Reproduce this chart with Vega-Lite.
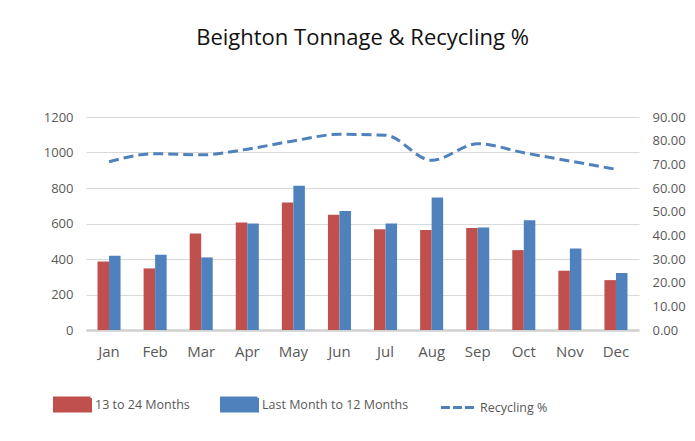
{
  "$schema": "https://vega.github.io/schema/vega-lite/v6.json",
  "width": 553,
  "height": 213,
  "autosize": {"type": "none"},
  "padding": {"left": 86, "top": 117, "right": 56, "bottom": 111},
  "background": "white",
  "title": {
    "text": "Beighton Tonnage & Recycling %",
    "font": "Open Sans",
    "fontSize": 22,
    "fontWeight": "normal",
    "color": "#111111",
    "baseline": "alphabetic",
    "offset": 44,
    "anchor": "middle"
  },
  "config": {
    "view": {"stroke": null},
    "axis": {"labelFont": "Open Sans", "labelColor": "#595959"}
  },
  "data": {
    "values": [
      {"month": "Jan", "series": "13 to 24 Months", "value": 386},
      {"month": "Feb", "series": "13 to 24 Months", "value": 347},
      {"month": "Mar", "series": "13 to 24 Months", "value": 544},
      {"month": "Apr", "series": "13 to 24 Months", "value": 606},
      {"month": "May", "series": "13 to 24 Months", "value": 718},
      {"month": "Jun", "series": "13 to 24 Months", "value": 649},
      {"month": "Jul", "series": "13 to 24 Months", "value": 568},
      {"month": "Aug", "series": "13 to 24 Months", "value": 563},
      {"month": "Sep", "series": "13 to 24 Months", "value": 574},
      {"month": "Oct", "series": "13 to 24 Months", "value": 450},
      {"month": "Nov", "series": "13 to 24 Months", "value": 334},
      {"month": "Dec", "series": "13 to 24 Months", "value": 281},
      {"month": "Jan", "series": "Last Month to 12 Months", "value": 418},
      {"month": "Feb", "series": "Last Month to 12 Months", "value": 424},
      {"month": "Mar", "series": "Last Month to 12 Months", "value": 409},
      {"month": "Apr", "series": "Last Month to 12 Months", "value": 600},
      {"month": "May", "series": "Last Month to 12 Months", "value": 812},
      {"month": "Jun", "series": "Last Month to 12 Months", "value": 671},
      {"month": "Jul", "series": "Last Month to 12 Months", "value": 600},
      {"month": "Aug", "series": "Last Month to 12 Months", "value": 746},
      {"month": "Sep", "series": "Last Month to 12 Months", "value": 577},
      {"month": "Oct", "series": "Last Month to 12 Months", "value": 619},
      {"month": "Nov", "series": "Last Month to 12 Months", "value": 459},
      {"month": "Dec", "series": "Last Month to 12 Months", "value": 321},
      {"month": "Jan", "series": "Recycling %", "value": 71.1},
      {"month": "Feb", "series": "Recycling %", "value": 74.5},
      {"month": "Mar", "series": "Recycling %", "value": 74.0},
      {"month": "Apr", "series": "Recycling %", "value": 76.4},
      {"month": "May", "series": "Recycling %", "value": 79.9},
      {"month": "Jun", "series": "Recycling %", "value": 82.7},
      {"month": "Jul", "series": "Recycling %", "value": 82.3},
      {"month": "Aug", "series": "Recycling %", "value": 71.7},
      {"month": "Sep", "series": "Recycling %", "value": 78.7},
      {"month": "Oct", "series": "Recycling %", "value": 74.9},
      {"month": "Nov", "series": "Recycling %", "value": 71.4},
      {"month": "Dec", "series": "Recycling %", "value": 67.9}
    ]
  },
  "encoding": {
    "x": {
      "field": "month",
      "type": "nominal",
      "sort": ["Jan","Feb","Mar","Apr","May","Jun","Jul","Aug","Sep","Oct","Nov","Dec"],
      "scale": {"paddingInner": 0.5, "paddingOuter": 0.25},
      "axis": {
        "title": null,
        "labelAngle": 0,
        "labelFontSize": 15,
        "labelPadding": 14,
        "ticks": false,
        "grid": false,
        "domain": true,
        "domainColor": "#d0d0d0",
        "domainWidth": 2.5
      }
    },
    "color": {
      "field": "series",
      "type": "nominal",
      "scale": {
        "domain": ["13 to 24 Months", "Last Month to 12 Months", "Recycling %"],
        "range": ["#C0504D", "#4F81BD", "#4F81BD"]
      },
      "legend": {
        "orient": "none",
        "legendX": -33,
        "legendY": 268,
        "direction": "horizontal",
        "title": null,
        "symbolSize": 1296,
        "symbolStrokeWidth": 0,
        "labelFont": "Open Sans",
        "labelFontSize": 12.5,
        "labelColor": "#595959",
        "labelOffset": 3,
        "columnPadding": 25,
        "encode": {
          "symbols": {
            "update": {
              "shape": {"signal": "datum.value === 'Recycling %' ? 'M-0.92,0H0.92' : 'M-1,-0.361H1V0.361H-1Z'"},
              "size": {"value": 1296},
              "fill": {"signal": "datum.value === '13 to 24 Months' ? '#C0504D' : (datum.value === 'Last Month to 12 Months' ? '#4F81BD' : 'transparent')"},
              "stroke": {"signal": "datum.value === 'Recycling %' ? '#4F81BD' : 'transparent'"},
              "strokeWidth": {"value": 3},
              "strokeDash": {"signal": "datum.value === 'Recycling %' ? [9,3] : [1,0]"},
              "opacity": {"value": 1}
            }
          }
        }
      }
    }
  },
  "layer": [
    {
      "transform": [{"filter": "datum.series !== 'Recycling %'"}],
      "mark": {"type": "bar"},
      "encoding": {
        "xOffset": {"field": "series", "type": "nominal", "sort": ["13 to 24 Months", "Last Month to 12 Months"], "scale": {"paddingInner": 0, "paddingOuter": 0}},
        "y": {
          "field": "value",
          "type": "quantitative",
          "scale": {"domain": [0, 1200]},
          "axis": {
            "orient": "left",
            "title": null,
            "values": [0, 200, 400, 600, 800, 1000, 1200],
            "format": "d",
            "grid": true,
            "gridColor": "#d9d9d9",
            "domain": false,
            "ticks": false,
            "labelPadding": 13,
            "labelFontSize": 13
          }
        }
      }
    },
    {
      "transform": [{"filter": "datum.series === 'Recycling %'"}],
      "mark": {"type": "line", "interpolate": "monotone", "strokeWidth": 3, "strokeDash": [10, 5]},
      "encoding": {
        "y": {
          "field": "value",
          "type": "quantitative",
          "scale": {"domain": [0, 90]},
          "axis": {
            "orient": "right",
            "title": null,
            "values": [0, 10, 20, 30, 40, 50, 60, 70, 80, 90],
            "format": ".2f",
            "grid": false,
            "domain": false,
            "ticks": false,
            "labelPadding": 13,
            "labelFontSize": 13
          }
        }
      }
    }
  ],
  "resolve": {"scale": {"y": "independent"}, "axis": {"y": "independent"}}
}
